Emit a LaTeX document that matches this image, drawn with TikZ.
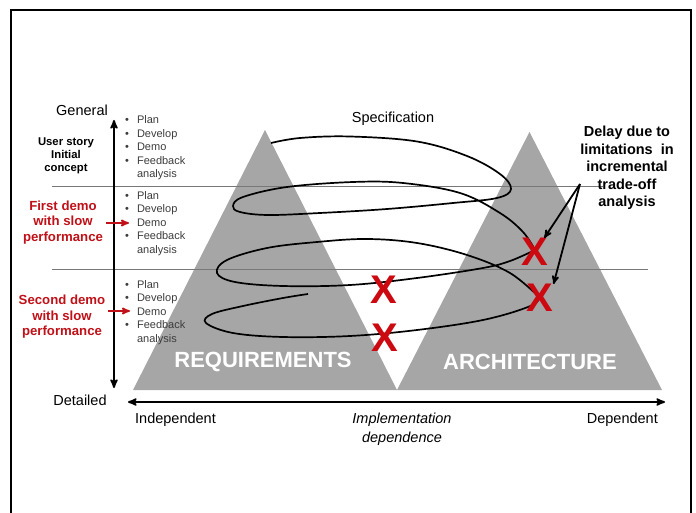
\documentclass[tikz,border=0pt]{standalone}
\usepackage{fontspec}
\setmainfont{Liberation Sans}
\usepackage{tikz}
\usetikzlibrary{arrows}
\definecolor{trigray}{RGB}{166,166,166}
\definecolor{demored}{RGB}{192,16,24}
\definecolor{xred}{RGB}{204,8,16}
\definecolor{listgray}{RGB}{60,60,60}
\definecolor{rulegray}{RGB}{120,120,120}
\newcommand{\loopitems}[1]{\begin{tabular}{@{}l@{\hspace{8pt}}l@{}}\textbullet & Plan\\ \textbullet & Develop\\ #1 & Demo\\ \textbullet & Feedback\\ & analysis\end{tabular}}

\begin{document}
\begin{tikzpicture}[x=1pt,y=-1pt,>=stealth',
  every node/.style={inner sep=0pt},
  axislabel/.style={font=\fontsize{14.5}{19}\selectfont},
  stage/.style={font=\fontsize{11}{13.5}\selectfont,text=listgray,anchor=west},
  story/.style={font=\fontsize{11.3}{12.8}\selectfont\bfseries,align=center},
  demo/.style={font=\fontsize{13.2}{15.5}\selectfont\bfseries,text=demored,align=center},
  xmark/.style={font=\fontsize{40}{40}\selectfont\bfseries,text=xred},
  bigtitle/.style={font=\fontsize{22}{22}\selectfont\bfseries,text=white},
  gridline/.style={draw=rulegray,line width=0.8pt},
  spiral/.style={line width=1.7pt,smooth,tension=0.6},
  axis/.style={<->,line width=1.9pt},
  demoarrow/.style={->,draw=demored,line width=1.7pt,shorten <=3pt},
  delayarrow/.style={->,line width=1.8pt}]
  \useasboundingbox (0,0) rectangle (696,513);
  \draw[line width=1.2pt] (11,513) -- (11,10) -- (691,10) -- (691,513);

  % the two triangles
  \fill[trigray] (133,390) -- (265,130) -- (397,390) -- cycle;
  \fill[trigray] (397,390) -- (529.5,132) -- (662,390) -- cycle;
  \draw[gridline] (52,186) -- (603,186);
  \draw[gridline] (52,269) -- (648,269);

  % iterations
  \draw[spiral] plot coordinates {(271,143) (300,138) (350,136.5) (417,141.5) (467,156) (500,174)
    (511,189) (497,198) (453,203) (387,209) (320,213) (268,215) (240,212) (233,206) (243,197)
    (287,187) (353,182) (403,183) (460,193) (500,213) (523,232) (535,250)};
  \draw[spiral] plot coordinates {(535,250) (510,261) (483,268) (417,278) (350,285) (283,286)
    (235,282) (217,273) (227,260) (267,248) (317,242) (367,239) (417,243) (467,255) (510,273) (540,298)};
  \draw[spiral] plot coordinates {(540,298) (528,307) (483,320) (417,330) (350,336) (283,337)
    (233,333) (206,323) (212,314) (243,306) (283,298) (308,294)};

  \node[xmark] (delayA) at (535,252) {X};
  \node[xmark] (delayB) at (540,298) {X};
  \node[xmark] (gapA)   at (384,290) {X};
  \node[xmark] (gapB)   at (385,338) {X};

  \node[bigtitle] (req)  at (263,362) {REQUIREMENTS};
  \node[bigtitle] (arch) at (530,362) {ARCHITECTURE};
  \node[axislabel] (spec) at (393,119) {Specification};

  % vertical axis
  \node[axislabel] (general)  at (82,110) {General};
  \node[axislabel] (detailed) at (80,400) {Detailed};
  \coordinate (ytop) at (114,120);
  \coordinate (ybot) at (114,388);
  \draw[axis] (ybot) -- (ytop);

  \node[story] (story) at (66,155.5) {User story\\Initial\\concept};
  \node[demo] (first)  at (63,222.5) {First demo\\with slow\\performance};
  \node[demo] (second) at (62,317) {Second demo\\with slow\\performance};

  \node[stage] (list1) at (125,148) {\loopitems{\textbullet}};
  \node[stage] (list2) at (125,223.5) {\loopitems{}};
  \node[stage] (list3) at (125,312.5) {\loopitems{}};

  \coordinate (demoA) at (129,223);
  \coordinate (demoB) at (130,311);
  \draw[demoarrow] (first.east |- demoA) -- (demoA);
  \draw[demoarrow] (second.east |- demoB) -- (demoB);

  % delay
  \node[font=\fontsize{14.5}{17.5}\selectfont\bfseries,align=center] (delay) at (627,168)
    {Delay due to\\limitations\ \ in\\incremental\\trade-off\\analysis};
  \coordinate (fork) at (580,184);
  \draw[delayarrow] (fork) -- (delayA);
  \draw[delayarrow] (fork) -- (delayB.north east);

  % horizontal axis
  \coordinate (xleft) at (128,402);
  \coordinate (xright) at (665,402);
  \draw[axis] (xleft) -- (xright);
  \node[axislabel,anchor=west] (indep) at (135,420) {Independent};
  \node[axislabel,anchor=east] (dep) at (658,420) {Dependent};
  \node[axislabel,font=\fontsize{14.5}{19}\selectfont\itshape,align=center] (impl) at (402,429.5)
    {Implementation\\dependence};
\end{tikzpicture}
\end{document}
